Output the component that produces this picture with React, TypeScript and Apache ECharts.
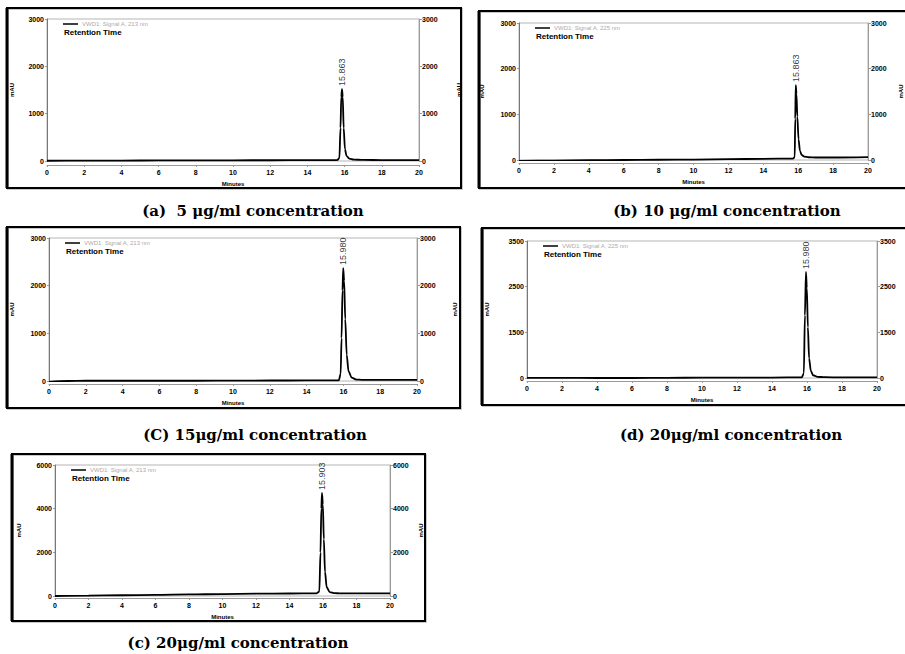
import React, { useEffect, useRef } from "react";
import * as echarts from "echarts";

// ---- data ----
const timesA = [0, 2, 4, 6, 8, 10, 12, 14, 15.6, 15.72, 15.78, 15.82, 15.86, 15.9, 15.95, 16.02, 16.1, 16.25, 16.5, 17, 18, 20];
const valuesA = [5, 8, 10, 12, 14, 15, 16, 18, 20, 60, 700, 1350, 1520, 1350, 700, 250, 110, 50, 30, 22, 20, 20];
const peakA = { t: 15.86, v: 1520, label: "15.863" };

const timesB = [0, 2, 4, 6, 8, 10, 12, 14, 15.7, 15.8, 15.83, 15.86, 15.9, 15.95, 16.02, 16.1, 16.2, 16.35, 16.6, 17, 18, 20];
const valuesB = [-20, -12, -5, 0, 5, 10, 18, 26, 32, 60, 900, 1640, 1450, 950, 450, 200, 110, 75, 60, 55, 55, 65];
const peakB = { t: 15.86, v: 1640, label: "15.863" };

const timesC = [0, 1, 2, 4, 6, 8, 10, 12, 14, 15.75, 15.85, 15.9, 15.95, 15.99, 16.04, 16.1, 16.18, 16.28, 16.45, 16.7, 17, 18, 20];
const valuesC = [-20, 0, 5, 5, 5, 5, 8, 10, 12, 15, 150, 900, 1900, 2370, 2100, 1300, 550, 200, 70, 30, 25, 22, 22];
const peakC = { t: 15.99, v: 2370, label: "15.980" };

const timesD = [0, 2, 4, 6, 8, 10, 12, 14, 15.7, 15.82, 15.88, 15.94, 15.99, 16.05, 16.12, 16.22, 16.35, 16.6, 17, 18, 20];
const valuesD = [5, 5, 0, 0, 5, 8, 10, 12, 15, 120, 1600, 2710, 2300, 1300, 500, 180, 70, 30, 20, 15, 15];
const peakD = { t: 15.94, v: 2710, label: "15.980" };
const yLabelsD = ["0", "1500", "2500", "3500"];

const timesE = [0, 2, 4, 6, 8, 10, 12, 14, 15.6, 15.78, 15.85, 15.9, 15.94, 15.99, 16.05, 16.12, 16.22, 16.4, 16.7, 17, 18, 20];
const valuesE = [0, 20, 35, 50, 70, 90, 105, 115, 120, 200, 2000, 4000, 4720, 4200, 2600, 1100, 400, 180, 130, 120, 120, 120];
const peakE = { t: 15.94, v: 4720, label: "15.903" };

const captions = [
  "(a)  5 μg/ml concentration",
  "(b) 10 μg/ml concentration",
  "(C) 15μg/ml concentration",
  "(d) 20μg/ml concentration",
  "(c) 20μg/ml concentration",
];
const signalTexts = [
  "VWD1: Signal A, 213 nm",
  "VWD1: Signal A, 225 nm",
  "VWD1: Signal A, 213 nm",
  "VWD1: Signal A, 225 nm",
  "VWD1: Signal A, 213 nm",
];

// ---- layout ----
const panels = [
  { times: timesA, values: valuesA, peak: peakA, max: 3000, interval: 1000, labels: null as string[] | null,
    grid: { left: 47, top: 19, width: 372, height: 142 }, xOff: 4, lGap: 32, rGap: 37, rName: true,
    border: { x: 7, y: 8, w: 454, h: 180 }, cap: { x: 253, y: 211 } },
  { times: timesB, values: valuesB, peak: peakB, max: 3000, interval: 1000, labels: null,
    grid: { left: 519, top: 23, width: 349, height: 137 }, xOff: 3, lGap: 34, rGap: 30, rName: true,
    border: { x: 479, y: 11, w: 432, h: 177 }, cap: { x: 727, y: 211 } },
  { times: timesC, values: valuesC, peak: peakC, max: 3000, interval: 1000, labels: null,
    grid: { left: 49, top: 238, width: 368, height: 143 }, xOff: 3, lGap: 34, rGap: 35, rName: true,
    border: { x: 7, y: 227, w: 453, h: 181 }, cap: { x: 255, y: 435 } },
  { times: timesD, values: valuesD, peak: peakD, max: 3500, interval: 3500 / 3, labels: yLabelsD,
    grid: { left: 527, top: 241, width: 350, height: 137 }, xOff: 3, lGap: 37, rGap: 30, rName: false,
    border: { x: 482, y: 228, w: 429, h: 177 }, cap: { x: 731, y: 435 } },
  { times: timesE, values: valuesE, peak: peakE, max: 6000, interval: 2000, labels: null,
    grid: { left: 55, top: 465, width: 335, height: 131 }, xOff: 2, lGap: 33, rGap: 28, rName: true,
    border: { x: 12, y: 454, w: 413, h: 167 }, cap: { x: 238, y: 643 } },
];

const AXIS_GRAY = "#9a9a9a";
const SANS = "Liberation Sans, Arial, sans-serif";

function buildOption() {
  const grid: any[] = [];
  const xAxis: any[] = [];
  const yAxis: any[] = [];
  const series: any[] = [];
  const graphic: any[] = [];

  panels.forEach((p, i) => {
    grid.push({ ...p.grid, show: true, borderColor: "#b5b5b5", borderWidth: 1, backgroundColor: "transparent" });
    xAxis.push({
      type: "value", gridIndex: i, min: 0, max: 20, interval: 2, offset: p.xOff,
      name: "Minutes", nameLocation: "middle", nameGap: 16,
      nameTextStyle: { fontSize: 6, fontWeight: "bold", color: "#000", fontFamily: SANS },
      axisLine: { show: true, onZero: false, lineStyle: { color: AXIS_GRAY, width: 1 } },
      axisTick: { show: true, length: 2, lineStyle: { color: AXIS_GRAY } },
      axisLabel: { fontSize: 7, fontWeight: "bold", color: "#000", margin: 4, fontFamily: SANS },
      splitLine: { show: false },
    });
    const fmt = (v: number) => {
      if (p.labels) return p.labels[Math.round(v / p.interval)] ?? "";
      return String(Math.round(v));
    };
    yAxis.push({
      type: "value", gridIndex: i, position: "left", min: 0, max: p.max, interval: p.interval,
      name: "mAU", nameLocation: "middle", nameGap: p.lGap, nameRotate: 90,
      nameTextStyle: { fontSize: 6, fontWeight: "bold", color: "#000", fontFamily: SANS },
      axisLine: { show: true, lineStyle: { color: "#777", width: 1 } },
      axisTick: { show: true, length: 2, lineStyle: { color: AXIS_GRAY } },
      axisLabel: { fontSize: 7, fontWeight: "bold", color: "#000", margin: 3, formatter: fmt, fontFamily: SANS },
      splitLine: { show: false },
    });
    yAxis.push({
      type: "value", gridIndex: i, position: "right", min: 0, max: p.max, interval: p.interval,
      name: p.rName ? "mAU" : "", nameLocation: "middle", nameGap: p.rGap, nameRotate: 90,
      nameTextStyle: { fontSize: 6, fontWeight: "bold", color: "#000", fontFamily: SANS },
      axisLine: { show: true, lineStyle: { color: AXIS_GRAY, width: 1 } },
      axisTick: { show: true, length: 3, lineStyle: { color: AXIS_GRAY } },
      axisLabel: { fontSize: 7, fontWeight: "bold", color: "#000", margin: 3, formatter: fmt, fontFamily: SANS },
      splitLine: { show: false },
    });
    series.push({
      type: "line", xAxisIndex: i, yAxisIndex: i * 2, showSymbol: false, symbol: "none",
      smooth: 0.3, smoothMonotone: "x",
      data: p.times.map((t, k) => [t, p.values[k]]),
      lineStyle: { color: "#000", width: 1.8 },
      z: 3,
    });
    series.push({
      type: "scatter", xAxisIndex: i, yAxisIndex: i * 2, symbolSize: 0,
      data: [[p.peak.t, p.peak.v]],
      label: {
        show: true, formatter: p.peak.label, position: "top", distance: 3, rotate: 90,
        align: "left", verticalAlign: "middle", fontSize: 9, color: "#000", fontFamily: SANS,
      },
      z: 4,
    });

    // legend (line + faint signal text) and "Retention Time"
    const lx = p.grid.left + 16;
    const ly = p.grid.top + 5;
    graphic.push({ type: "line", shape: { x1: lx, y1: ly, x2: lx + 15, y2: ly }, style: { stroke: "#000", lineWidth: 1.5 } });
    graphic.push({ type: "text", x: lx + 19, y: ly, style: { text: signalTexts[i], fontSize: 6, fill: "#aaa", fontFamily: SANS, verticalAlign: "middle" } });
    graphic.push({ type: "text", x: lx + 1, y: ly + 8, style: { text: "Retention Time", fontSize: 8, fontWeight: "bold", fill: "#000", fontFamily: SANS, verticalAlign: "middle" } });

    // frame
    const b = p.border;
    graphic.push({ type: "rect", shape: { x: b.x + 1, y: b.y + 1, width: b.w, height: b.h }, style: { fill: "none", stroke: "#c8c8c8", lineWidth: 2 }, z: 0 });
    graphic.push({ type: "rect", shape: { x: b.x, y: b.y, width: b.w, height: b.h }, style: { fill: "none", stroke: "#000", lineWidth: 2 }, z: 1 });
    graphic.push({ type: "line", shape: { x1: b.x, y1: b.y, x2: b.x, y2: b.y + b.h }, style: { stroke: "#000", lineWidth: 3 }, z: 1 });

    // caption
    graphic.push({
      type: "text", x: p.cap.x, y: p.cap.y,
      style: { text: captions[i], fontSize: 15, fontWeight: "bold", fill: "#000", fontFamily: "DejaVu Serif, serif", align: "center", verticalAlign: "middle" },
    });
  });

  return { animation: false, backgroundColor: "#fff", grid, xAxis, yAxis, series, graphic };
}

export default function App() {
  const ref = useRef<HTMLDivElement>(null);
  useEffect(() => {
    const chart = echarts.init(ref.current!, null, { renderer: "svg" });
    chart.setOption(buildOption());
    return () => chart.dispose();
  }, []);
  return <div ref={ref} style={{ position: "absolute", left: 0, top: 0, width: 905, height: 654, background: "#fff" }} />;
}
